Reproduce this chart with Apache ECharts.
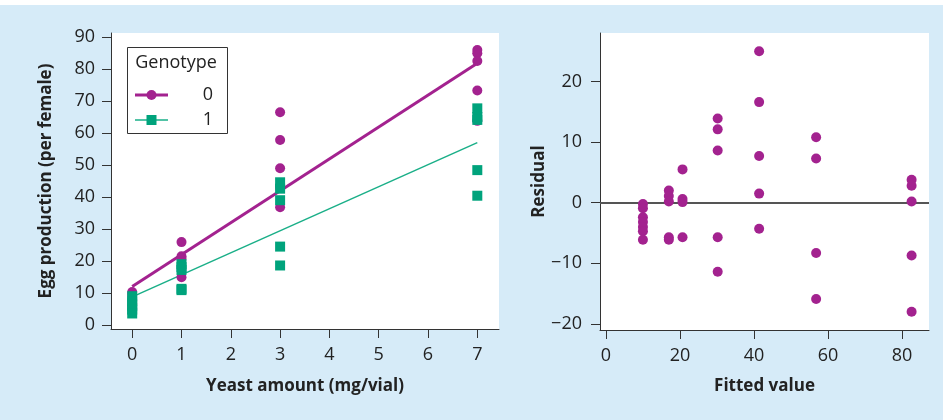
<!DOCTYPE html>
<html>
<head>
<meta charset="utf-8">
<script src="https://cdn.jsdelivr.net/npm/echarts@6/dist/echarts.min.js"></script>
<style>
  html, body { margin: 0; padding: 0; background: #ffffff; }
  #chart { width: 943px; height: 420px; }
</style>
</head>
<body>
<div id="chart"></div>
<script>
// Yeast amount per vial (mg) for each group of vials
const yeastLevels = [0, 1, 3, 7];

// Eggs per female, genotype 0, one list per yeast level
const eggsGenotype0 = [
  [10.3, 9.4, 7.8, 6.6, 5.3],
  [25.9, 21.5, 20.8, 14.9],
  [66.5, 57.8, 49.0, 42.8, 36.8],
  [85.9, 84.9, 82.5, 73.3, 63.8]
];

// Eggs per female, genotype 1, one list per yeast level
const eggsGenotype1 = [
  [9.0, 7.4, 6.0, 4.8, 3.6],
  [19.0, 18.1, 17.2, 11.3, 10.9],
  [44.6, 42.6, 39.0, 24.5, 18.6],
  [67.7, 65.0, 64.1, 48.4, 40.4]
];

// Fitted regression lines (value at yeast = 0 and yeast = 7)
const fitEnds = [0, 7];
const fitGenotype0 = [12.0, 81.8];
const fitGenotype1 = [8.8, 57.0];

// Residuals grouped by fitted value
const fittedValues = [10, 17, 20.7, 30.2, 41.4, 56.8, 82.6];
const residuals = [
  [-0.2, -0.9, -2.4, -3.2, -4.0, -4.7, -6.1],
  [2.0, 1.1, 0.2, -5.7, -6.1],
  [5.5, 0.6, 0.1, -5.7],
  [13.9, 12.1, 8.6, -5.7, -11.4],
  [25.0, 16.6, 7.7, 1.5, -4.3],
  [10.8, 7.3, -8.3, -15.9],
  [3.8, 2.8, 0.2, -8.7, -18.0]
];

// Tick values
const yeastTicks = [0, 1, 2, 3, 4, 5, 6, 7];
const eggTicks = [0, 10, 20, 30, 40, 50, 60, 70, 80, 90];
const fittedTicks = [0, 20, 40, 60, 80];
const residualTicks = [-20, -10, 0, 10, 20];

const PURPLE = '#a3228f';
const GREEN = '#00a37c';
const GREEN_LINE = '#1aaf88';
const AXIS = '#333333';
const FONT = '"Open Sans", "Noto Sans", sans-serif';

function groupPoints(xs, groups) {
  const pts = [];
  groups.forEach((vals, i) => vals.forEach(v => pts.push([xs[i], v])));
  return pts;
}

function axisBase(ticks, margin, fmt) {
  return {
    type: 'value',
    axisLine: { show: true, onZero: false, lineStyle: { color: AXIS, width: 1 } },
    axisTick: { show: true, length: 9, customValues: ticks, lineStyle: { color: AXIS, width: 1 } },
    axisLabel: {
      customValues: ticks, fontFamily: FONT, fontSize: 18, color: '#222', margin: margin,
      formatter: fmt || (v => String(v))
    },
    splitLine: { show: false },
    nameTextStyle: { fontFamily: FONT, fontSize: 17, fontWeight: 'bold', color: '#222' }
  };
}

const minusFmt = v => (v < 0 ? '\u2212' + Math.abs(v) : String(v));

const chart = echarts.init(document.getElementById('chart'), null, { renderer: 'canvas' });

chart.setOption({
  backgroundColor: '#d6ebf8',
  animation: false,
  grid: [
    { left: 111, top: 33, width: 388, height: 296, show: true, backgroundColor: '#ffffff', borderWidth: 0 },
    { left: 600, top: 33, width: 329, height: 297, show: true, backgroundColor: '#ffffff', borderWidth: 0 }
  ],
  xAxis: [
    Object.assign(axisBase(yeastTicks, 17), {
      gridIndex: 0, min: -0.43, max: 7.44,
      name: 'Yeast amount (mg/vial)', nameLocation: 'middle', nameGap: 49
    }),
    Object.assign(axisBase(fittedTicks, 17), {
      gridIndex: 1, min: -1.6, max: 87.3,
      name: 'Fitted value', nameLocation: 'middle', nameGap: 48
    })
  ],
  yAxis: [
    Object.assign(axisBase(eggTicks, 16), {
      gridIndex: 0, min: -1.25, max: 91.25,
      name: 'Egg production (per female)', nameLocation: 'middle', nameGap: 56
    }),
    Object.assign(axisBase(residualTicks, 18, minusFmt), {
      gridIndex: 1, min: -21.0, max: 28.0,
      name: 'Residual', nameLocation: 'middle', nameGap: 51
    })
  ],
  graphic: [
    { type: 'rect', shape: { x: 0, y: 0, width: 943, height: 5 }, style: { fill: '#ffffff' }, z: 100 },
    // Legend box
    { type: 'rect', shape: { x: 127.5, y: 47.5, width: 100, height: 86 },
      style: { fill: '#ffffff', stroke: '#333', lineWidth: 1 }, z: 100 },
    { type: 'text', x: 176, y: 63, z: 101,
      style: { text: 'Genotype', fontFamily: FONT, fontSize: 18, fill: '#222', align: 'center', verticalAlign: 'middle' } },
    { type: 'line', shape: { x1: 135, y1: 95, x2: 168, y2: 95 }, style: { stroke: PURPLE, lineWidth: 3 }, z: 101 },
    { type: 'circle', shape: { cx: 151.5, cy: 95, r: 5 }, style: { fill: PURPLE }, z: 102 },
    { type: 'text', x: 208, y: 95, z: 101,
      style: { text: '0', fontFamily: FONT, fontSize: 18, fill: '#222', align: 'center', verticalAlign: 'middle' } },
    { type: 'line', shape: { x1: 135, y1: 120, x2: 168, y2: 120 }, style: { stroke: GREEN_LINE, lineWidth: 1.5 }, z: 101 },
    { type: 'rect', shape: { x: 146.5, y: 115, width: 10, height: 10 }, style: { fill: GREEN }, z: 102 },
    { type: 'text', x: 208, y: 120, z: 101,
      style: { text: '1', fontFamily: FONT, fontSize: 18, fill: '#222', align: 'center', verticalAlign: 'middle' } }
  ],
  series: [
    {
      name: 'fit 0', type: 'line', xAxisIndex: 0, yAxisIndex: 0, symbol: 'none', z: 2,
      data: fitEnds.map((x, i) => [x, fitGenotype0[i]]),
      lineStyle: { color: PURPLE, width: 3 }
    },
    {
      name: 'fit 1', type: 'line', xAxisIndex: 0, yAxisIndex: 0, symbol: 'none', z: 2,
      data: fitEnds.map((x, i) => [x, fitGenotype1[i]]),
      lineStyle: { color: GREEN_LINE, width: 1.5 }
    },
    {
      name: '0', type: 'scatter', xAxisIndex: 0, yAxisIndex: 0, z: 3,
      symbol: 'circle', symbolSize: 10,
      data: groupPoints(yeastLevels, eggsGenotype0),
      itemStyle: { color: PURPLE, opacity: 1 }
    },
    {
      name: '1', type: 'scatter', xAxisIndex: 0, yAxisIndex: 0, z: 4,
      symbol: 'rect', symbolSize: 10,
      data: groupPoints(yeastLevels, eggsGenotype1),
      itemStyle: { color: GREEN, opacity: 1 }
    },
    {
      name: 'residuals', type: 'scatter', xAxisIndex: 1, yAxisIndex: 1, z: 3,
      symbol: 'circle', symbolSize: 10,
      data: groupPoints(fittedValues, residuals),
      itemStyle: { color: PURPLE, opacity: 1 },
      markLine: {
        silent: true, symbol: 'none', z: 2,
        label: { show: false },
        lineStyle: { color: '#555', width: 2, type: 'solid' },
        data: [{ yAxis: 0 }]
      }
    }
  ]
});
</script>
</body>
</html>
